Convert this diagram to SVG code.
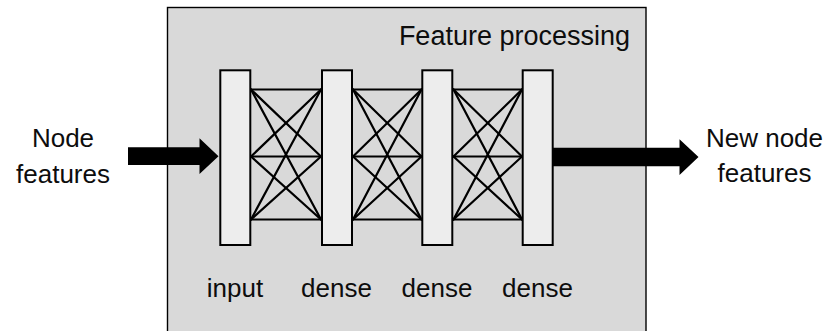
<svg xmlns="http://www.w3.org/2000/svg" width="832" height="331" viewBox="0 0 832 331">
<style>
.txt{font-family:"Liberation Sans",Arial,sans-serif;font-size:26px;fill:#0d0d0d}
.mid{text-anchor:middle}
.bar{fill:#ededed;stroke:#000;stroke-width:2}
.mesh line{stroke:#000;stroke-width:2.2;stroke-linecap:round}
.blk{fill:#000}
</style>
<rect width="832" height="331" fill="#fff"/>
<g id="feature-processing">
<rect x="167.5" y="7.5" width="478.5" height="330" fill="#d9d9d9" stroke="#000" stroke-width="1.4"/>
<text class="txt" x="630" y="44.5" text-anchor="end" style="font-size:27px">Feature processing</text>
</g>
<g id="connectors">
<g class="mesh">
<line x1="251" y1="89.5" x2="321" y2="89.5"/><line x1="251" y1="156.5" x2="321" y2="156.5"/><line x1="251" y1="219.5" x2="321" y2="219.5"/>
<line x1="251" y1="89.5" x2="321" y2="156.5"/><line x1="251" y1="89.5" x2="321" y2="219.5"/>
<line x1="251" y1="156.5" x2="321" y2="89.5"/><line x1="251" y1="156.5" x2="321" y2="219.5"/>
<line x1="251" y1="219.5" x2="321" y2="89.5"/><line x1="251" y1="219.5" x2="321" y2="156.5"/>
</g>
<g class="mesh">
<line x1="353" y1="89.5" x2="421.5" y2="89.5"/><line x1="353" y1="156.5" x2="421.5" y2="156.5"/><line x1="353" y1="219.5" x2="421.5" y2="219.5"/>
<line x1="353" y1="89.5" x2="421.5" y2="156.5"/><line x1="353" y1="89.5" x2="421.5" y2="219.5"/>
<line x1="353" y1="156.5" x2="421.5" y2="89.5"/><line x1="353" y1="156.5" x2="421.5" y2="219.5"/>
<line x1="353" y1="219.5" x2="421.5" y2="89.5"/><line x1="353" y1="219.5" x2="421.5" y2="156.5"/>
</g>
<g class="mesh">
<line x1="453.5" y1="89.5" x2="522" y2="89.5"/><line x1="453.5" y1="156.5" x2="522" y2="156.5"/><line x1="453.5" y1="219.5" x2="522" y2="219.5"/>
<line x1="453.5" y1="89.5" x2="522" y2="156.5"/><line x1="453.5" y1="89.5" x2="522" y2="219.5"/>
<line x1="453.5" y1="156.5" x2="522" y2="89.5"/><line x1="453.5" y1="156.5" x2="522" y2="219.5"/>
<line x1="453.5" y1="219.5" x2="522" y2="89.5"/><line x1="453.5" y1="219.5" x2="522" y2="156.5"/>
</g>
<polygon class="blk" points="128,147.3 199.5,147.3 199.5,138.3 218.5,156.2 199.5,174 199.5,165 128,165"/>
<polygon class="blk" points="553,147.7 679.5,147.7 679.5,139.3 698.5,157 679.5,175 679.5,166.3 553,166.3"/>
</g>
<g id="input-layer">
<rect class="bar" x="220.3" y="70.3" width="30" height="174.7"/>
<text class="txt mid" x="235" y="296.7">input</text>
</g>
<g id="dense-1">
<rect class="bar" x="322" y="70.3" width="30" height="174.7"/>
<text class="txt mid" x="336.5" y="296.7">dense</text>
</g>
<g id="dense-2">
<rect class="bar" x="422.3" y="70.3" width="30" height="174.7"/>
<text class="txt mid" x="437" y="296.7">dense</text>
</g>
<g id="dense-3">
<rect class="bar" x="522.7" y="70.3" width="30" height="174.7"/>
<text class="txt mid" x="537.5" y="296.7">dense</text>
</g>
<g id="node-features">
<text class="txt mid" x="63" y="147.3">Node</text>
<text class="txt mid" x="63" y="183">features</text>
</g>
<g id="new-node-features">
<text class="txt mid" x="764.5" y="147.3">New node</text>
<text class="txt mid" x="764.5" y="182">features</text>
</g>
</svg>
